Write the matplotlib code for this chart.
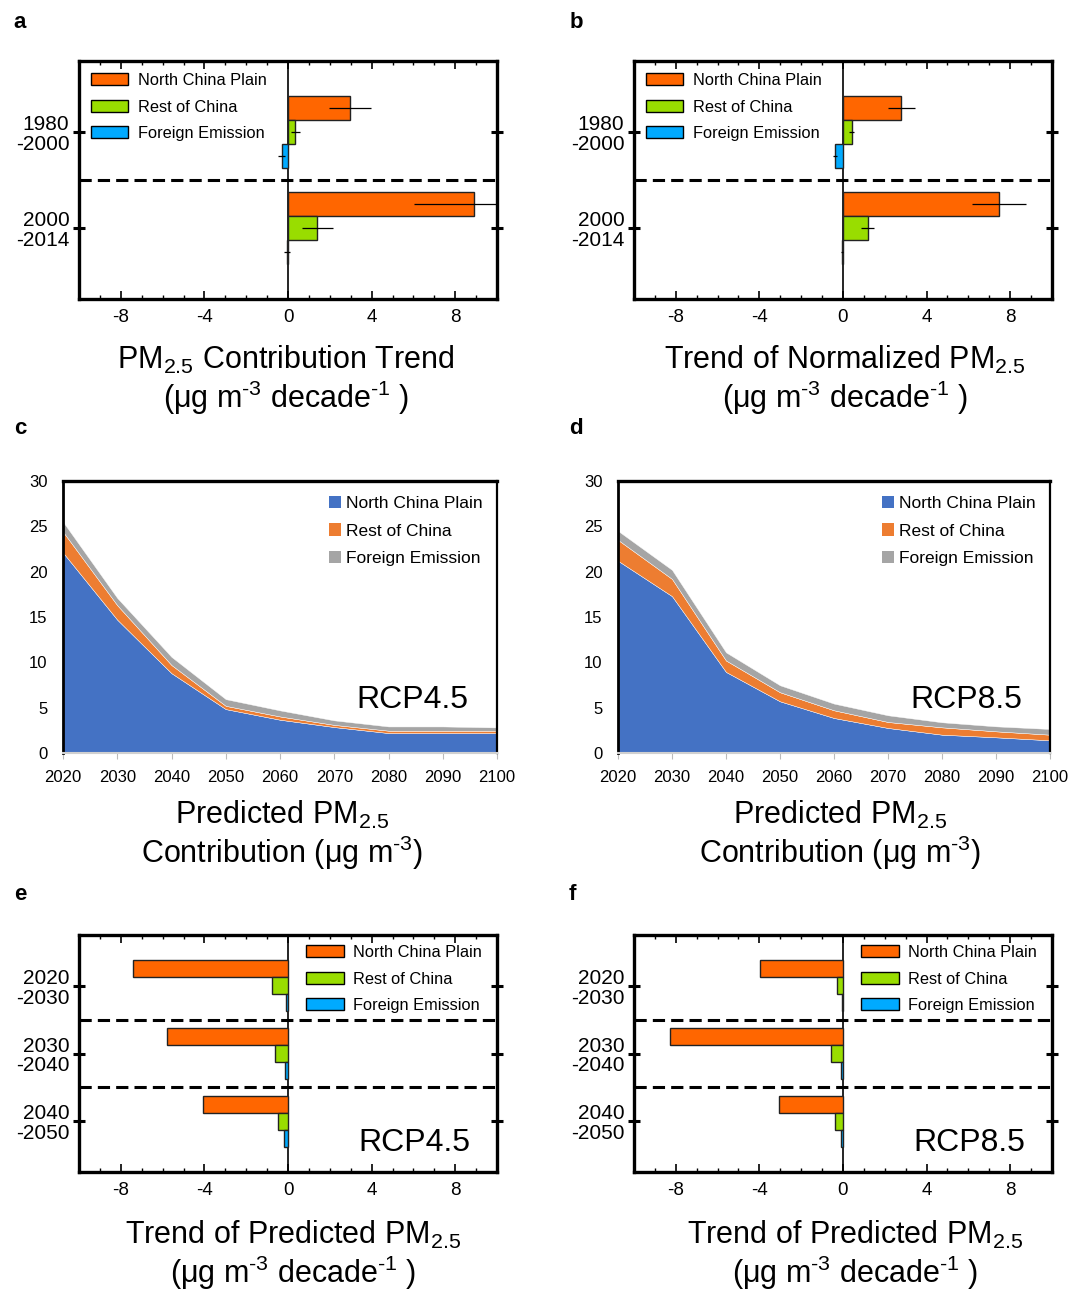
import numpy as np
import matplotlib
matplotlib.use("Agg")
import matplotlib.pyplot as plt
from matplotlib.patches import Patch
from matplotlib.ticker import MultipleLocator

plt.rcParams["font.family"] = ["Liberation Sans", "DejaVu Sans"]
plt.rcParams["mathtext.fontset"] = "custom"
plt.rcParams["mathtext.rm"] = "Liberation Sans"
plt.rcParams["mathtext.default"] = "regular"
plt.rcParams["axes.unicode_minus"] = False

# ---- data ----
sources = ["North China Plain", "Rest of China", "Foreign Emission"]

# panel a: PM2.5 contribution trend
hist_periods = ["1980\n-2000", "2000\n-2014"]
a_ncp = [2.96, 8.92]
a_roc = [0.35, 1.41]
a_fe = [-0.31, -0.05]
a_ncp_err = [1.0, 2.9]
a_roc_err = [0.22, 0.75]
a_fe_err = [0.18, 0.13]

# panel b: trend of normalized PM2.5
b_ncp = [2.79, 7.47]
b_roc = [0.41, 1.18]
b_fe = [-0.38, -0.05]
b_ncp_err = [0.65, 1.28]
b_roc_err = [0.10, 0.30]
b_fe_err = [0.10, 0.04]

# panels c, d: predicted contribution
years = [2020, 2030, 2040, 2050, 2060, 2070, 2080, 2090, 2100]
c_ncp = [22.1, 14.7, 8.8, 4.84, 3.67, 2.86, 2.2, 2.2, 2.2]
c_roc = [2.3, 1.6, 0.9, 0.36, 0.36, 0.24, 0.26, 0.26, 0.26]
c_fe = [1.1, 0.8, 0.9, 0.74, 0.67, 0.5, 0.47, 0.47, 0.36]
d_ncp = [21.2, 17.3, 8.94, 5.7, 3.86, 2.76, 2.02, 1.73, 1.4]
d_roc = [2.3, 1.9, 1.26, 1.0, 0.85, 0.66, 0.81, 0.66, 0.62]
d_fe = [1.0, 1.0, 0.9, 0.77, 0.74, 0.74, 0.56, 0.55, 0.63]

# panels e, f: trend of predicted PM2.5
fut_periods = ["2020\n-2030", "2030\n-2040", "2040\n-2050"]
e_ncp = [-7.42, -5.77, -4.08]
e_roc = [-0.78, -0.63, -0.46]
e_fe = [-0.10, -0.13, -0.17]
f_ncp = [-3.98, -8.3, -3.07]
f_roc = [-0.27, -0.59, -0.37]
f_fe = [-0.05, -0.08, -0.10]

bar_colors = ["#FF6600", "#99DD00", "#00AAFF"]
area_colors = ["#4472C4", "#ED7D31", "#A5A5A5"]

W, H = 1072, 1291
fig = plt.figure(figsize=(W / 100, H / 100), dpi=100)


def ax_px(l, t, r, b):
    return fig.add_axes([l / W, 1 - b / H, (r - l) / W, (b - t) / H])


def bar_panel(ax, periods, vals, errs, ylim, leg_anchor, rcp=None):
    n = len(periods)
    centers = np.arange(1, n + 1)
    offsets = [-0.25, 0.0, 0.25]
    for k in range(3):
        y = centers + offsets[k]
        ax.barh(y, vals[k], height=0.25, color=bar_colors[k],
                edgecolor="#222222", linewidth=1.0, zorder=3)
        if errs is not None:
            ax.errorbar(vals[k], y, xerr=errs[k], fmt="none", ecolor="black",
                        elinewidth=0.9, capsize=0, zorder=4)
    ax.axvline(0, color="black", lw=1.2, zorder=2)
    for i in range(n - 1):
        ax.axhline(centers[i] + 0.5, color="black", lw=2.2,
                   dashes=(4, 2), zorder=2)
    ax.set_xlim(-10, 10)
    ax.set_ylim(*ylim)
    ax.set_yticks(centers)
    ax.set_yticklabels(periods, fontsize=15, linespacing=1.05)
    ax.xaxis.set_minor_locator(MultipleLocator(1))
    ax.set_xticks([-8, -4, 0, 4, 8])
    ax.tick_params(axis="x", which="major", direction="in", top=True,
                   length=6, width=1.2, labelsize=13.5, pad=7)
    ax.tick_params(axis="x", which="minor", direction="in", top=True,
                   length=3, width=1.0)
    ax.tick_params(axis="y", direction="inout", right=True, length=8,
                   width=2.2, pad=3)
    for s in ax.spines.values():
        s.set_linewidth(2.4)
    handles = [Patch(facecolor=c, edgecolor="black", linewidth=1.0)
               for c in bar_colors]
    ax.legend(handles, sources, loc="upper left", bbox_to_anchor=leg_anchor,
              frameon=False, fontsize=11.8, handlelength=2.3,
              handleheight=0.75, labelspacing=0.7, handletextpad=0.6,
              borderaxespad=0)
    if rcp:
        ax.text(0.937, 0.122, rcp, transform=ax.transAxes, ha="right",
                va="center", fontsize=23)


def area_panel(ax, ncp, roc, fe, rcp):
    ax.stackplot(years, ncp, roc, fe, colors=area_colors, linewidth=0.3,
                 edgecolor="white")
    ax.set_xlim(2020, 2100)
    ax.set_ylim(0, 30)
    ax.set_xticks(years)
    ax.set_yticks(range(0, 31, 5))
    ax.tick_params(axis="x", direction="out", length=4, color="#BBBBBB",
                   labelsize=12, pad=8)
    ax.tick_params(axis="y", length=0, labelsize=12, pad=11)
    ax.spines["bottom"].set_color("#D0D0D0")
    ax.spines["bottom"].set_linewidth(1.5)
    ax.spines["left"].set_linewidth(2.0)
    ax.spines["top"].set_linewidth(2.4)
    ax.spines["right"].set_linewidth(1.6)
    handles = [Patch(facecolor=c, edgecolor="none") for c in area_colors]
    ax.legend(handles, sources, loc="upper right", frameon=False,
              fontsize=12.5, handlelength=0.7, handleheight=0.7,
              handletextpad=0.25, labelspacing=0.72,
              bbox_to_anchor=(1.0, 1.0), borderaxespad=0.45)
    ax.text(0.935, 0.195, rcp, transform=ax.transAxes, ha="right",
            va="center", fontsize=23)


ax_a = ax_px(79, 61, 497, 299)
bar_panel(ax_a, hist_periods, [a_ncp, a_roc, a_fe],
          [a_ncp_err, a_roc_err, a_fe_err], (2.74, 0.26), (0.012, 0.977))
ax_b = ax_px(634, 61, 1052, 299)
bar_panel(ax_b, hist_periods, [b_ncp, b_roc, b_fe],
          [b_ncp_err, b_roc_err, b_fe_err], (2.74, 0.26), (0.012, 0.977))

ax_c = ax_px(63, 481, 497, 753)
area_panel(ax_c, c_ncp, c_roc, c_fe, "RCP4.5")
ax_d = ax_px(618, 481, 1050, 753)
area_panel(ax_d, d_ncp, d_roc, d_fe, "RCP8.5")

ax_e = ax_px(79, 935, 497, 1172)
bar_panel(ax_e, fut_periods, [e_ncp, e_roc, e_fe], None, (3.75, 0.25),
          (0.527, 0.985), rcp="RCP4.5")
ax_f = ax_px(634, 935, 1052, 1172)
bar_panel(ax_f, fut_periods, [f_ncp, f_roc, f_fe], None, (3.75, 0.25),
          (0.527, 0.985), rcp="RCP8.5")

# panel letters
for lab, x, y in [("a", 20, 22), ("b", 576, 22), ("c", 20, 428),
                  ("d", 576, 428), ("e", 20, 895), ("f", 572, 895)]:
    fig.text(x / W, 1 - y / H, lab, fontsize=16, fontweight="bold",
             ha="center", va="center")

# axis titles below panels
unit_trend = "(μg m$^{\u20103}$ decade$^{\u20101}$ )"
unit_conc = "Contribution (μg m$^{\u20103}$)"
titles = [
    (286, "PM$_{2.5}$ Contribution Trend", unit_trend, 360),
    (845, "Trend of Normalized PM$_{2.5}$", unit_trend, 360),
    (282, "Predicted PM$_{2.5}$", unit_conc, 815),
    (840, "Predicted PM$_{2.5}$", unit_conc, 815),
    (293, "Trend of Predicted PM$_{2.5}$", unit_trend, 1235),
    (855, "Trend of Predicted PM$_{2.5}$", unit_trend, 1235),
]
for x, l1, l2, y in titles:
    fig.text(x / W, 1 - y / H, l1, fontsize=22, ha="center", va="center")
    fig.text(x / W, 1 - (y + 38) / H, l2, fontsize=22, ha="center",
             va="center")

fig.savefig("out.png", dpi=100)
